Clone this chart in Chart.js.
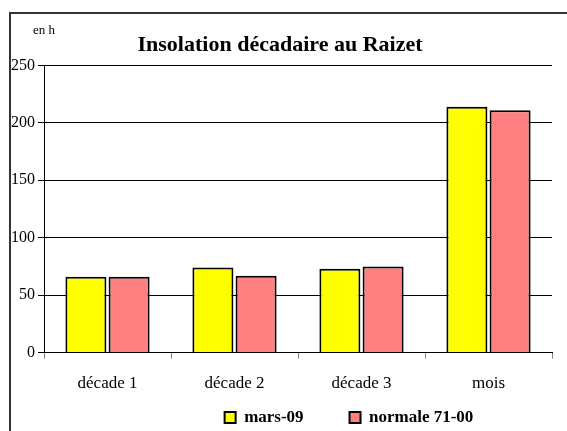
<!DOCTYPE html>
<html>
<head>
<meta charset="utf-8">
<script src="https://cdn.jsdelivr.net/npm/chart.js@4"></script>
<style>
  html, body { margin: 0; padding: 0; background: #fff; }
  #wrap { position: relative; width: 567px; height: 431px; overflow: hidden; }
  #frame { position: absolute; left: 9px; top: 12px; width: 600px; height: 460px;
           border-left: 2px solid #333; border-top: 2px solid #333; }
  canvas { position: absolute; left: 0; top: 0; }
</style>
</head>
<body>
<div id="wrap">
  <div id="frame"></div>
  <canvas id="insolChart" width="567" height="431"></canvas>
</div>
<script>
/*******  Data: insolation décadaire ******/
var categories = ['décade 1', 'décade 2', 'décade 3', 'mois'];
var mars09 = [66, 74, 73, 214];
var normale = [66, 67, 75, 211];
var yTicks = [0, 50, 100, 150, 200, 250];

var serif = '"Liberation Serif", "Times New Roman", serif';

// small "en h" unit label above the y axis
var unitLabel = {
  id: 'unitLabel',
  afterDraw: function (chart) {
    var c = chart.ctx;
    c.save();
    c.font = '13px ' + serif;
    c.fillStyle = '#000';
    c.fillText('en h', 33, 31);
    c.restore();
  }
};

// Excel put the legend a bit right of centre
var legendShift = {
  id: 'legendShift',
  afterLayout: function (chart) {
    chart.legend.left += 69;
    chart.legend.right += 69;
  }
};

var ctx = document.getElementById('insolChart');
var insolChart = new Chart(ctx, {
  type: 'bar',
  data: {
    labels: categories,
    datasets: [
      {
        label: 'mars-09',
        data: mars09,
        backgroundColor: '#FFFF00',
        borderColor: '#000',
        borderWidth: 2,
        categoryPercentage: 0.68,
        barPercentage: 0.95
      },
      {
        label: 'normale 71-00',
        data: normale,
        backgroundColor: '#FF8080',
        borderColor: '#000',
        borderWidth: 2,
        categoryPercentage: 0.68,
        barPercentage: 0.95
      }
    ]
  },
  options: {
    responsive: false,
    animation: false,
    layout: { padding: { top: 32, left: 8, right: 15, bottom: -5 } },
    plugins: {
      title: {
        display: true,
        text: 'Insolation décadaire au Raizet',
        color: '#000',
        font: { family: serif, size: 22, weight: 'bold' },
        padding: { top: 0, bottom: 7 }
      },
      legend: {
        position: 'bottom',
        labels: {
          color: '#000',
          font: { family: serif, size: 17, weight: 'bold' },
          boxWidth: 11,
          boxHeight: 11,
          padding: 0,
          generateLabels: function (chart) {
            var items = Chart.defaults.plugins.legend.labels.generateLabels(chart);
            items[0].text += '\u2003\u2003\u2002\u2009';
            return items;
          }
        }
      },
      tooltip: { enabled: false }
    },
    scales: {
      x: {
        grid: { display: true, drawOnChartArea: false, offset: true, color: '#808080', tickLength: 6 },
        border: { color: '#000', width: 1 },
        ticks: { color: '#000', font: { family: serif, size: 17 }, padding: 15 }
      },
      y: {
        min: 0,
        max: 250,
        afterBuildTicks: function (axis) {
          axis.ticks = yTicks.map(function (v) { return { value: v }; });
        },
        grid: { color: '#000', lineWidth: 1, tickLength: 6 },
        border: { color: '#000', width: 1 },
        ticks: { color: '#000', font: { family: serif, size: 16 }, padding: 3 }
      }
    }
  },
  plugins: [unitLabel, legendShift]
});
</script>
</body>
</html>
